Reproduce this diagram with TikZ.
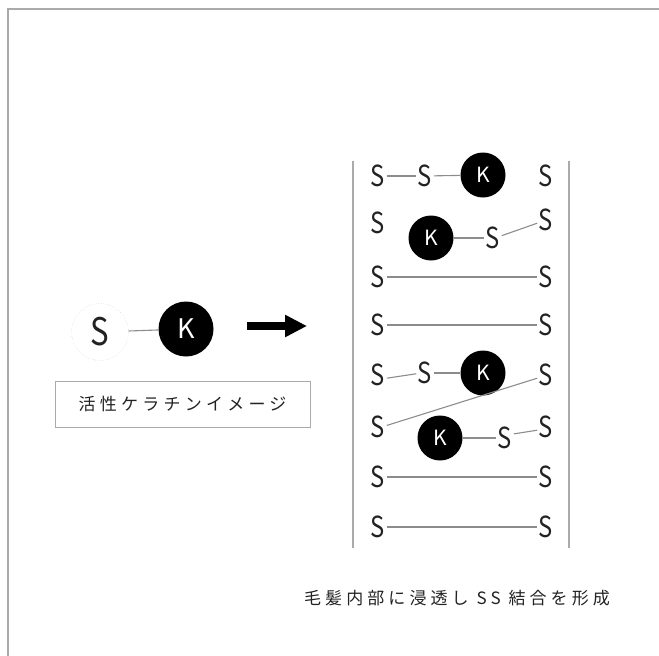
\documentclass[tikz,border=0pt]{standalone}
\usepackage{fontspec}
\setmainfont{Noto Sans CJK JP}
\usetikzlibrary{arrows.meta}
\definecolor{ink}{HTML}{222222}
\definecolor{linec}{HTML}{8C8C8C}
\definecolor{framec}{HTML}{AAAAAA}
\newcommand{\sltr}{\scalebox{0.82}[1]{S}}
\tikzset{
  x=1pt,y=-1pt,
  sl/.style={font=\fontsize{29}{29}\selectfont, text=ink, inner sep=1.5pt},
  kball/.style={circle, fill=black, minimum size=45pt, inner sep=0pt, text=white, font=\fontsize{21}{21}\selectfont},
  bond/.style={draw=linec, line width=1.1pt},
}
\begin{document}
\begin{tikzpicture}
\useasboundingbox (0,0) rectangle (659,656);
\draw[framec, line width=1.3pt] (8,656) -- (8,9) -- (659,9);

% left: activated keratin
\node[circle, draw=framec!80, dotted, minimum size=57pt, inner sep=0pt, text=ink, font=\fontsize{38}{38}\selectfont] (s0) at (100,332) {\sltr};
\node[kball, minimum size=55pt, font=\fontsize{27}{27}\selectfont] (k0) at (186,329) {K};
\draw[bond] (s0) -- (k0);
\coordinate (a1) at (247,326);
\coordinate (a2) at (307,326);
\draw[black, line width=8pt, -{Triangle[length=22pt,width=21pt]}] (a1) -- (a2);
\node[draw=framec, line width=1pt, minimum width=255pt, minimum height=46pt, text=ink, font=\fontsize{17}{17}\selectfont\addfontfeature{LetterSpace=25}] (lab) at (182.5,404) {活性ケラチンイメージ};

% right: hair interior
\coordinate (lt) at (353,161);
\coordinate (lb) at (353,548);
\coordinate (rt) at (569,161);
\coordinate (rb) at (569,548);
\draw[framec, line width=1.3pt] (lt) -- (lb);
\draw[framec, line width=1.3pt] (rt) -- (rb);

% row 1
\node[sl] (s1l) at (378,176) {\sltr};
\node[sl] (s1m) at (425,176) {\sltr};
\node[kball] (k1) at (483,175) {K};
\node[sl] (s1r) at (546,176) {\sltr};
\draw[bond] (s1l) -- (s1m);
\draw[bond] (s1m) -- (k1);
% row 2
\node[sl] (s2l) at (378,223) {\sltr};
\node[kball] (k2) at (431,238) {K};
\node[sl] (s2m) at (493,238) {\sltr};
\node[sl] (s2r) at (546,220) {\sltr};
\draw[bond] (k2) -- (s2m.west |- k2);
\draw[bond] (s2m.15) -- (s2r.200);
% row 3, 4
\node[sl] (s3l) at (378,277) {\sltr};
\node[sl] (s3r) at (546,277) {\sltr};
\draw[bond] (s3l) -- (s3r);
\node[sl] (s4l) at (378,325) {\sltr};
\node[sl] (s4r) at (546,325) {\sltr};
\draw[bond] (s4l) -- (s4r);
% row 5
\node[sl] (s5l) at (378,375) {\sltr};
\node[sl] (s5m) at (425,373) {\sltr};
\node[kball] (k5) at (483,373) {K};
\node[sl] (s5r) at (546,375) {\sltr};
\draw[bond] (s5l.-20) -- (s5m.185);
\draw[bond] (s5m) -- (k5);
% row 6
\node[sl] (s6l) at (378,427) {\sltr};
\node[kball] (k6) at (440,438) {K};
\node[sl] (s6m) at (505,438) {\sltr};
\node[sl] (s6r) at (546,427) {\sltr};
\draw[bond] (s6l.10) -- (s5r.200);
\draw[bond] (k6) -- (s6m.west |- k6);
\draw[bond] (s6m.25) -- (s6r.200);
% row 7, 8
\node[sl] (s7l) at (378,477) {\sltr};
\node[sl] (s7r) at (546,477) {\sltr};
\draw[bond] (s7l) -- (s7r);
\node[sl] (s8l) at (378,527) {\sltr};
\node[sl] (s8r) at (546,527) {\sltr};
\draw[bond] (s8l) -- (s8r);

\node[text=ink, font=\fontsize{17}{17}\selectfont\addfontfeature{LetterSpace=24}] (cap) at (457,598) {毛髪内部に浸透し SS 結合を形成};
\end{tikzpicture}
\end{document}
